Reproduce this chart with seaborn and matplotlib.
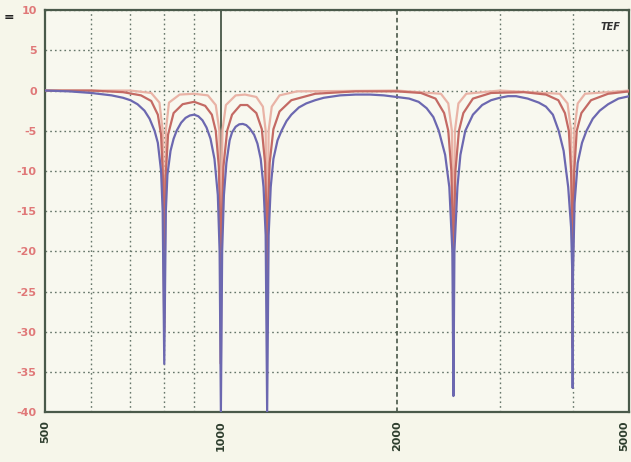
import matplotlib
matplotlib.use("Agg")
import matplotlib.pyplot as plt
import matplotlib.transforms as mtransforms
import seaborn as sns
import pandas as pd

# ---- data ----
blue_f = [500, 550, 600, 650, 680, 700, 720, 740, 755, 770, 780, 790, 795, 800, 805, 810, 820, 830, 840,
          855, 870, 885, 900, 915, 930, 945, 960, 975, 988, 995, 1000, 1005, 1012, 1022, 1035, 1045, 1060,
          1075, 1090, 1105, 1120, 1140, 1155, 1170, 1183, 1193, 1200, 1207, 1217, 1230, 1250, 1270, 1295,
          1320, 1360, 1400, 1450, 1500, 1600, 1700, 1800, 1900, 2000, 2100, 2180, 2250, 2310, 2360,
          2420, 2460, 2490, 2500, 2510, 2540, 2570, 2620, 2700, 2800, 2900, 3000, 3100, 3200, 3350, 3500,
          3600, 3700, 3785, 3860, 3930, 3975, 3995, 4000, 4005, 4030, 4080, 4150, 4224, 4330, 4450, 4600,
          4790, 5000]
blue_db = [0, -0.1, -0.3, -0.6, -0.9, -1.2, -1.7, -2.5, -3.5, -5.0, -6.5, -10, -15, -34, -15, -10.5, -7.5, -6.0, -5.0,
           -4.0, -3.4, -3.1, -3.0, -3.2, -3.7, -4.6, -6.0, -8.5, -13, -20, -40, -20, -13, -9.0, -6.2, -5.2, -4.5,
           -4.2, -4.15, -4.3, -4.7, -5.5, -6.6, -8.5, -12, -18, -40, -18, -12, -8.5, -6.2, -5.0, -3.8,
           -3.0, -2.1, -1.6, -1.2, -0.9, -0.6, -0.5, -0.5, -0.6, -0.8, -1.0, -1.4, -2.2, -3.3, -5.0,
           -8.0, -12, -20, -38, -20, -12, -8.0, -5.0, -3.0, -1.8, -1.2, -0.9, -0.7, -0.7, -1.0, -1.5,
           -2.0, -3.0, -5.0, -7.5, -12, -17, -23, -37, -23, -14, -9.0, -6.5, -5.0, -3.5, -2.5, -1.7,
           -1.0, -0.7]

red_f = [500, 600, 680, 730, 760, 780, 790, 796, 800, 804, 812, 830, 860, 900, 940, 965, 980, 992, 998,
         1000, 1002, 1010, 1025, 1045, 1080, 1110, 1150, 1175, 1190, 1197, 1200, 1203, 1212, 1230, 1260,
         1320, 1450, 1700, 2000, 2200, 2330, 2410, 2450, 2480, 2495, 2500, 2505, 2520, 2555, 2600, 2700,
         2900, 3300, 3600, 3780, 3880, 3940, 3975, 3995, 4000, 4005, 4025, 4065, 4140, 4300, 4600, 5000]
red_db = [0, 0, -0.2, -0.6, -1.3, -3.0, -5.5, -11, -30, -11, -5.5, -2.8, -1.7, -1.4, -1.9, -3.0, -5.0, -9.5, -18,
          -34, -18, -9.5, -5.0, -3.0, -1.8, -1.8, -2.8, -4.8, -9.0, -16, -27, -16, -9.0, -4.8, -2.6,
          -1.2, -0.4, -0.1, -0.1, -0.3, -1.0, -2.8, -5.0, -10, -18, -30, -18, -10, -5.0, -2.8, -1.0,
          -0.3, -0.2, -0.5, -1.2, -2.8, -5.0, -10, -18, -32, -18, -10, -5.0, -2.8, -1.2, -0.4, -0.1]

pink_f = [500, 700, 760, 785, 795, 800, 805, 815, 850, 900, 950, 980, 994, 1000, 1006, 1020, 1060, 1100,
          1150, 1180, 1193, 1200, 1207, 1222, 1260, 1350, 2000, 2380, 2450, 2485, 2500, 2515, 2550, 2630,
          3000, 3800, 3920, 3975, 4000, 4025, 4080, 4200, 5000]
pink_db = [0, 0, -0.3, -1.5, -5, -25, -5, -1.5, -0.5, -0.4, -0.6, -1.8, -5, -25, -5, -1.8, -0.6, -0.5,
           -0.8, -2.0, -5, -25, -5, -2.0, -0.6, -0.1, 0, -0.4, -1.6, -5, -25, -5, -1.6, -0.4,
           0, -0.4, -1.6, -5, -25, -5, -1.6, -0.4, 0]

x_ticks = [500, 1000, 2000, 5000]
x_tick_labels = ["500", "1000", "2000", "5000"]
y_ticks = [10, 5, 0, -5, -10, -15, -20, -25, -30, -35, -40]
y_tick_labels = ["10", "5", "0", "-5", "-10", "-15", "-20", "-25", "-30", "-35", "-40"]
dotted_vlines = [600, 700, 800, 900, 3000, 4000]

df = pd.concat([
    pd.DataFrame({"f": pink_f, "db": pink_db, "s": "pink"}),
    pd.DataFrame({"f": red_f, "db": red_db, "s": "red"}),
    pd.DataFrame({"f": blue_f, "db": blue_db, "s": "blue"}),
])

sns.set_style("white")
bg = "#f6f6ea"
fig = plt.figure(figsize=(6.31, 4.62), dpi=100, facecolor=bg)
ax = fig.add_axes([0.0713, 0.108, 0.926, 0.870])
ax.set_facecolor("#f8f8ef")

gc = "#66766a"
for v in y_ticks:
    ax.axhline(v, color=gc, ls=(0, (1.2, 2.2)), lw=1.0, zorder=1)
for v in dotted_vlines:
    ax.axvline(v, color=gc, ls=(0, (1.2, 2.2)), lw=1.0, zorder=1)
ax.axvline(1000, color="#3a4a3a", ls="-", lw=1.2, zorder=1)
ax.axvline(2000, color="#3a4a3a", ls=(0, (3, 2)), lw=1.1, zorder=1)

sns.lineplot(data=df, x="f", y="db", hue="s", estimator=None, sort=True,
             palette={"pink": "#e9b3a6", "red": "#c46a64", "blue": "#6c68b0"},
             linewidth=1.6, legend=False, ax=ax, zorder=3)

ax.set_xscale("log")
ax.set_xlim(500, 5000)
ax.set_ylim(-40, 10)
ax.set_xticks(x_ticks)
ax.set_xticklabels(x_tick_labels, rotation=90, color="#2e3e2e", fontsize=8, fontweight="bold")
ax.xaxis.set_minor_locator(matplotlib.ticker.NullLocator())
ax.set_yticks(y_ticks)
ax.set_yticklabels(y_tick_labels, color="#e07878", fontsize=8, fontweight="bold")
ax.tick_params(axis="both", length=0, pad=6)
ax.set_xlabel("")
ax.set_ylabel("")
for sp in ax.spines.values():
    sp.set_color("#4a5a4a")
    sp.set_linewidth(1.6)

# nudge the last x label so it stays inside the figure
last = ax.get_xticklabels()[-1]
last.set_transform(last.get_transform() + mtransforms.ScaledTranslation(-5 / 100, 0, fig.dpi_scale_trans))

ax.text(0.985, 0.97, "TEF", transform=ax.transAxes, ha="right", va="top",
        fontsize=7, fontweight="bold", style="italic", color="#333333")
fig.text(0.005, 0.955, "=", fontsize=9, fontweight="bold", color="#222222")

fig.savefig("out.png", dpi=100, facecolor=bg)
